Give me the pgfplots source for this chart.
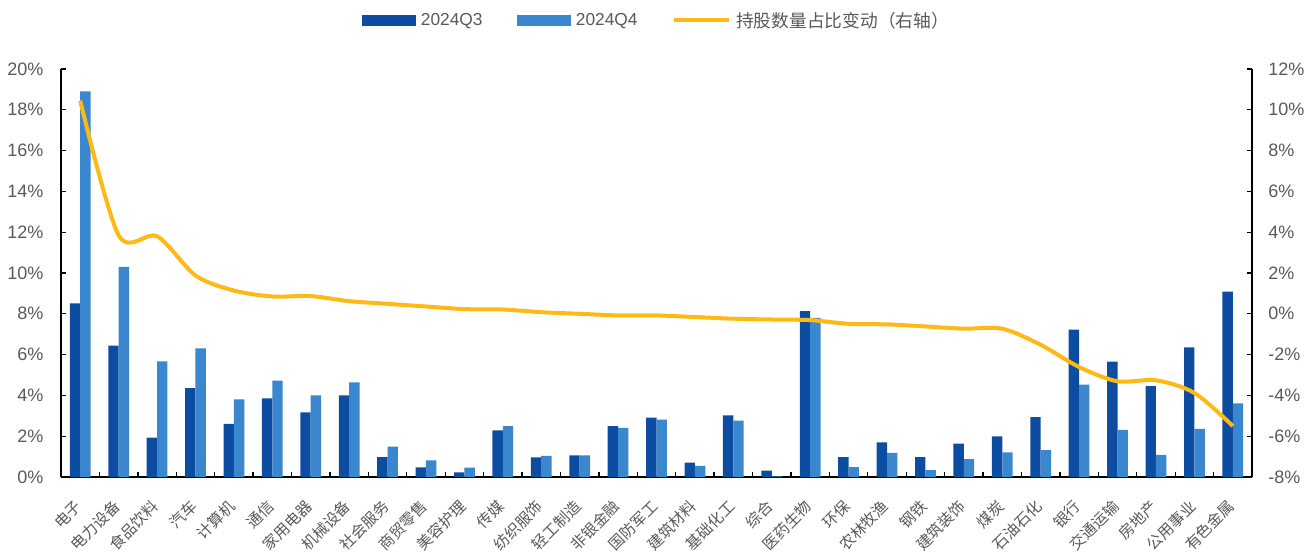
\documentclass[border=0pt]{standalone}
\usepackage{pgfplots}
\pgfplotsset{compat=1.18}
\usepackage{fontspec}
\setmainfont{Liberation Sans}
\newfontfamily\cjk{Noto Sans CJK SC}
\definecolor{qthree}{HTML}{0C4DA2}
\definecolor{qfour}{HTML}{3A87D0}
\definecolor{lineY}{HTML}{FFB914}
\definecolor{tickgray}{HTML}{595959}

\begin{document}
\begin{tikzpicture}
\path[use as bounding box] (-45.75pt,-57pt) rectangle (939.75pt,357.75pt);
\begin{axis}[
  at={(0,0)}, anchor=south west,
  scale only axis, width=893.25pt, height=306pt,
  xmin=-0.5, xmax=30.5, ymin=0, ymax=20,
  axis y line*=left, axis x line*=bottom,
  axis line style={black, line width=1pt, -},
  xtick={0,...,30},
  xticklabels={电子,电力设备,食品饮料,汽车,计算机,通信,家用电器,机械设备,社会服务,商贸零售,美容护理,传媒,纺织服饰,轻工制造,非银金融,国防军工,建筑材料,基础化工,综合,医药生物,环保,农林牧渔,钢铁,建筑装饰,煤炭,石油石化,银行,交通运输,房地产,公用事业,有色金属},
  minor xtick={0.5,1.5,...,29.5},
  major x tick style={draw=none},
  minor x tick style={black, line width=1pt},
  minor tick length=4pt,
  tick align=inside,
  major tick length=4pt,
  major y tick style={black, line width=1pt},
  ytick={0,2,...,20},
  yticklabels={0\%,2\%,4\%,6\%,8\%,10\%,12\%,14\%,16\%,18\%,20\%},
  yticklabel style={font=\fontsize{13.5}{15}\selectfont, text=tickgray, anchor=east, inner sep=0pt, xshift=-13pt},
  xticklabel style={font=\cjk\fontsize{11.5}{13}\selectfont, text=tickgray, xshift=-1pt, yshift=-20pt, rotate=45, anchor=east, inner sep=0pt},
  legend style={at={(0.2527,1.119)}, anchor=west, draw=none, fill=none,
    inner xsep=0pt, inner ysep=0pt,
    font=\fontsize{13}{15}\selectfont, text=tickgray,
    nodes={inner sep=0pt, anchor=west},
    legend columns=3,
    /tikz/every odd column/.append style={column sep=4pt},
    /tikz/every even column/.append style={column sep=26pt}},
  legend cell align=left,
]
\addplot[ybar, bar width=0.27, bar shift=-0.135, fill=qthree, draw=none,
  legend image code/.code={\fill[qthree] (0pt,-4.1pt) rectangle (40pt,4.1pt);}]
  coordinates {(0,8.51)(1,6.44)(2,1.93)(3,4.36)(4,2.60)(5,3.86)(6,3.17)(7,4.00)(8,0.98)(9,0.47)(10,0.23)(11,2.28)(12,0.96)(13,1.06)(14,2.49)(15,2.91)(16,0.70)(17,3.02)(18,0.31)(19,8.13)(20,0.98)(21,1.70)(22,0.98)(23,1.63)(24,1.99)(25,2.93)(26,7.23)(27,5.66)(28,4.45)(29,6.35)(30,9.09)};
\addlegendentry{2024Q3}
\addplot[ybar, bar width=0.27, bar shift=0.135, fill=qfour, draw=none,
  legend image code/.code={\fill[qfour] (0pt,-4.1pt) rectangle (40pt,4.1pt);}]
  coordinates {(0,18.9)(1,10.3)(2,5.67)(3,6.31)(4,3.81)(5,4.72)(6,4.00)(7,4.64)(8,1.49)(9,0.81)(10,0.46)(11,2.49)(12,1.03)(13,1.06)(14,2.41)(15,2.81)(16,0.54)(17,2.76)(18,0.03)(19,7.80)(20,0.48)(21,1.18)(22,0.34)(23,0.88)(24,1.21)(25,1.32)(26,4.53)(27,2.31)(28,1.09)(29,2.36)(30,3.61)};
\addlegendentry{2024Q4}
\addlegendimage{lineY, line width=3pt, legend image code/.code={\draw[lineY, line width=3pt] (0pt,0pt) -- (41pt,0pt);}}
\addlegendentry{\cjk\fontsize{13.3}{15}\selectfont 持股数量占比变动（右轴）}
\end{axis}
\begin{axis}[
  at={(0,0)}, anchor=south west,
  scale only axis, width=893.25pt, height=306pt,
  xmin=-0.5, xmax=30.5, ymin=-8, ymax=12,
  axis y line*=right, axis x line=none,
  axis line style={black, line width=1pt, -},
  tick align=inside,
  major tick length=4pt,
  major y tick style={black, line width=1pt},
  ytick={-8,-6,...,12},
  yticklabels={-8\%,-6\%,-4\%,-2\%,0\%,2\%,4\%,6\%,8\%,10\%,12\%},
  yticklabel style={font=\fontsize{13.5}{15}\selectfont, text=tickgray, anchor=west, inner sep=0pt, xshift=12pt},
]
\addplot[lineY, line width=3pt, smooth, tension=0.5] coordinates {(0,10.45)(1,3.85)(2,3.8)(3,1.88)(4,1.14)(5,0.85)(6,0.87)(7,0.62)(8,0.49)(9,0.36)(10,0.23)(11,0.21)(12,0.08)(13,0.0)(14,-0.08)(15,-0.08)(16,-0.16)(17,-0.24)(18,-0.28)(19,-0.31)(20,-0.49)(21,-0.52)(22,-0.62)(23,-0.73)(24,-0.73)(25,-1.52)(26,-2.61)(27,-3.31)(28,-3.26)(29,-3.88)(30,-5.5)};
\end{axis}
\end{tikzpicture}
\end{document}
